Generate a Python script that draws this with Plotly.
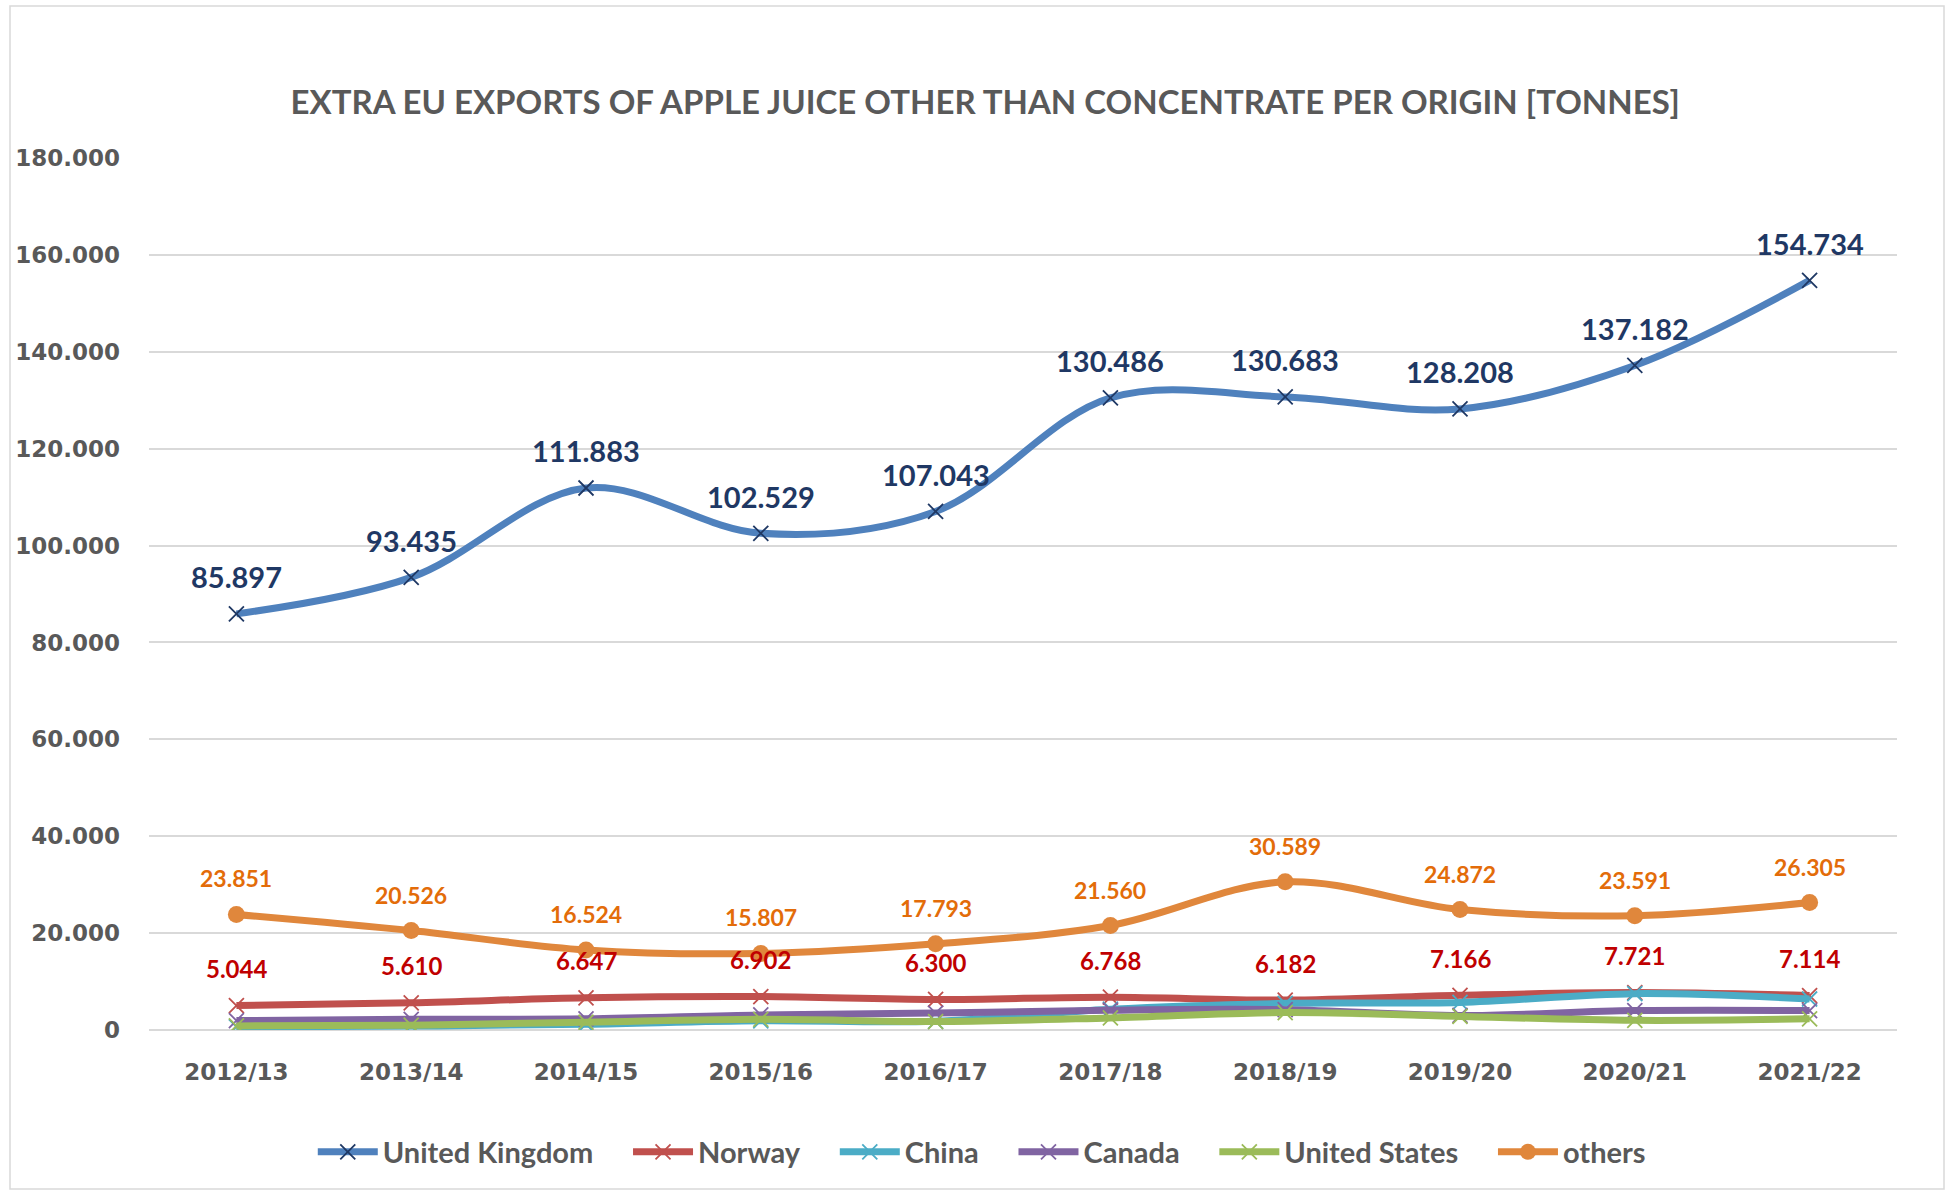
import plotly.graph_objects as go

categories = ["2012/13", "2013/14", "2014/15", "2015/16", "2016/17",
              "2017/18", "2018/19", "2019/20", "2020/21", "2021/22"]

uk = [85897, 93435, 111883, 102529, 107043, 130486, 130683, 128208, 137182, 154734]
norway = [5044, 5610, 6647, 6902, 6300, 6768, 6182, 7166, 7721, 7114]
china = [650, 800, 1200, 1900, 1800, 4300, 5500, 5700, 7500, 6400]
canada = [1950, 2200, 2300, 3100, 3500, 4100, 4200, 3000, 4000, 4000]
united_states = [850, 1000, 1600, 2200, 1750, 2500, 3600, 2800, 2000, 2300]
others = [23851, 20526, 16524, 15807, 17793, 21560, 30589, 24872, 23591, 26305]

y_ticks = [0, 20000, 40000, 60000, 80000, 100000, 120000, 140000, 160000, 180000]

series = [
    ("United Kingdom", uk, "#4F81BD", "#1F3864", "x-thin"),
    ("Norway", norway, "#C0504D", "#C0504D", "x-thin"),
    ("China", china, "#4BACC6", "#4BACC6", "x-thin"),
    ("Canada", canada, "#8064A2", "#8064A2", "x-thin"),
    ("United States", united_states, "#9BBB59", "#9BBB59", "x-thin"),
    ("others", others, "#E0873C", "#E0873C", "circle"),
]

fig = go.Figure()
for name, vals, col, mcol, sym in series:
    if sym == "circle":
        marker = dict(symbol="circle", size=17, color=mcol, line=dict(width=0))
    else:
        marker = dict(symbol=sym, size=15, color=mcol, line=dict(width=1.8, color=mcol))
    fig.add_trace(go.Scatter(
        x=categories, y=vals, name=f"<b>{name}</b>" + "&nbsp;" * 4, mode="lines+markers",
        line=dict(color=col, width=7, shape="spline", smoothing=1.0),
        marker=marker,
    ))

def fmt(v):
    return f"{v:,}".replace(",", ".")

label_sets = [
    (uk, "#1F3864", 29, 37),
    (norway, "#C00000", 24, 37),
    (others, "#E36C09", 23, 36),
]
annotations = []
for vals, col, size, shift in label_sets:
    for c, v in zip(categories, vals):
        annotations.append(dict(
            x=c, y=v, text=f"<b>{fmt(v)}</b>", showarrow=False,
            yshift=shift, font=dict(family="Lato", size=size, color=col),
        ))

fig.update_layout(
    width=1951, height=1192,
    paper_bgcolor="white", plot_bgcolor="white",
    margin=dict(l=149, r=54, t=158, b=162),
    separators=",.",
    title=dict(
        text="<b>EXTRA EU EXPORTS OF APPLE JUICE OTHER THAN CONCENTRATE PER ORIGIN [TONNES]</b>",
        x=0.505, xanchor="center", y=1 - 102 / 1192, yanchor="middle",
        font=dict(family="Lato", size=33, color="#595959"),
    ),
    legend=dict(
        orientation="h", x=0.485, xanchor="center", y=-(1152 - 1030) / 872, yanchor="middle",
        font=dict(family="Lato", size=29, color="#595959"),
        itemwidth=60, tracegroupgap=0,
    ),
    showlegend=True,
    annotations=annotations,
    shapes=[dict(type="rect", xref="paper", yref="paper",
                 x0=(10 - 149) / 1748, x1=(1944 - 149) / 1748,
                 y0=-(1189 - 1030) / 872, y1=1 + (158 - 6) / 872,
                 line=dict(color="#D9D9D9", width=1.5), layer="below")],
)

fig.update_xaxes(
    type="category", range=[-0.5, 9.5], showgrid=False, showline=False, zeroline=False,
    tickfont=dict(family="DejaVu Sans", size=23, color="#595959", weight="bold"),
    ticks="", ticklabelstandoff=26,
)
fig.update_yaxes(
    range=[0, 180000], tickvals=y_ticks, tickformat=",.0f",
    showgrid=True, gridcolor="#D9D9D9", gridwidth=1.5,
    zeroline=True, zerolinecolor="#D9D9D9", zerolinewidth=2, showline=False,
    tickfont=dict(family="DejaVu Sans", size=23, color="#595959", weight="bold"),
    ticks="", ticklabelstandoff=28,
)

fig.write_html("out.html", config={"displayModeBar": False},
               post_script="document.body.style.margin='0';")
